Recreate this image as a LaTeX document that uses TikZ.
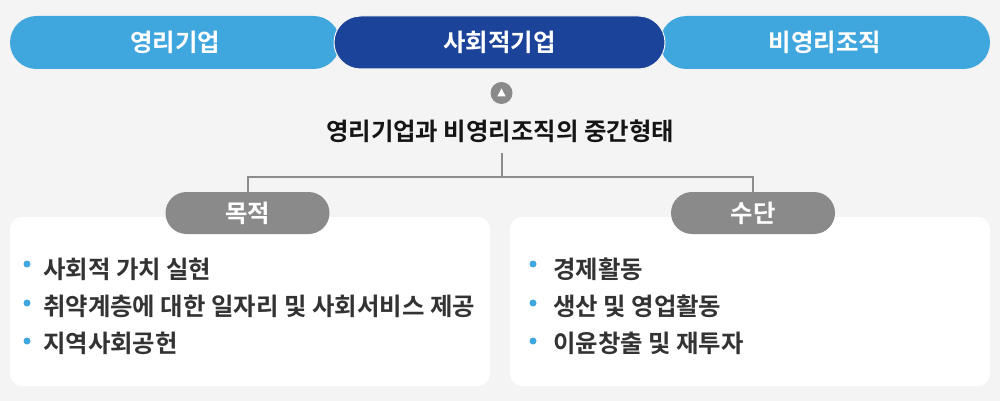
\documentclass[tikz,border=0pt]{standalone}
\usepackage{fontspec}
\setmainfont{Noto Sans CJK KR}[BoldFont={Noto Sans CJK KR Bold}]
\definecolor{bg}{HTML}{F4F4F4}
\definecolor{lb}{HTML}{40A6DE}
\definecolor{db}{HTML}{1B4399}
\definecolor{gp}{HTML}{8A8A8A}
\definecolor{ln}{HTML}{8C8C8C}
\definecolor{tx}{HTML}{333333}
\definecolor{tt}{HTML}{151515}
\tikzset{
  kfont/.style={font=\bfseries\fontsize{24.4}{27}\selectfont},
  pill/.style={rectangle, rounded corners=26.5pt, minimum height=53pt, inner sep=0pt,
    text=white, kfont},
  gpill/.style={rectangle, rounded corners=21pt, minimum height=42pt, minimum width=164pt,
    inner sep=0pt, fill=gp, text=white, kfont},
  card/.style={rectangle, rounded corners=12pt, fill=white, minimum width=480pt,
    minimum height=169pt, inner sep=0pt},
  conn/.style={draw=ln, line width=2pt},
  item/.style={anchor=west, inner sep=0pt, text=tx, kfont},
  dot/.style={circle, fill=lb, minimum size=7pt, inner sep=0pt},
}
\begin{document}
\begin{tikzpicture}[x=1pt,y=-1pt]
\fill[bg] (0,0) rectangle (1000,401);
\useasboundingbox (0,0) rectangle (1000,401);
% top pills
\node[pill, fill=lb, minimum width=330pt] (p1) at (175,42.5) {영리기업};
\node[pill, fill=lb, minimum width=330pt] (p3) at (825,42.5) {비영리조직};
\node[pill, fill=db, draw=bg, line width=1pt, minimum width=331pt] (p2) at (499.5,42.5) {사회적기업};
% icon
\node[circle, fill=gp, minimum size=22pt, inner sep=0pt] (icon) at (501.5,93) {};
\fill[white] (icon.center) ++(0,-4.5) -- ++(4.2,8) -- ++(-8.4,0) -- cycle;
% title
\node[inner sep=0pt, text=tt, kfont] (title) at (500,131) {영리기업과 비영리조직의 중간형태};
% cards
\node[card] (c1) at (250,301.5) {};
\node[card] (c2) at (750,301.5) {};
% gray pills
\node[gpill] (g1) at (247.5,213) {목적};
\node[gpill] (g2) at (753,213) {수단};
% connectors
\coordinate (j) at (501.5,177);
\draw[conn] ([yshift=-10pt]title.south -| j) -- (j);
\draw[conn] (g1.north) |- (j) -| (g2.north);
% left items
\node[dot] (d1) at (27,264) {};
\node[dot] (d2) at (27,303) {};
\node[dot] (d3) at (27,341) {};
\node[item] (t1) at (43,269) {사회적 가치 실현};
\node[item] (t2) at (43,306) {취약계층에 대한 일자리 및 사회서비스 제공};
\node[item] (t3) at (43,343) {지역사회공헌};
% right items
\node[dot] (e1) at (533,264) {};
\node[dot] (e2) at (533,303) {};
\node[dot] (e3) at (533,341) {};
\node[item] (u1) at (553,269) {경제활동};
\node[item] (u2) at (553,306) {생산 및 영업활동};
\node[item] (u3) at (553,343) {이윤창출 및 재투자};
\end{tikzpicture}
\end{document}
